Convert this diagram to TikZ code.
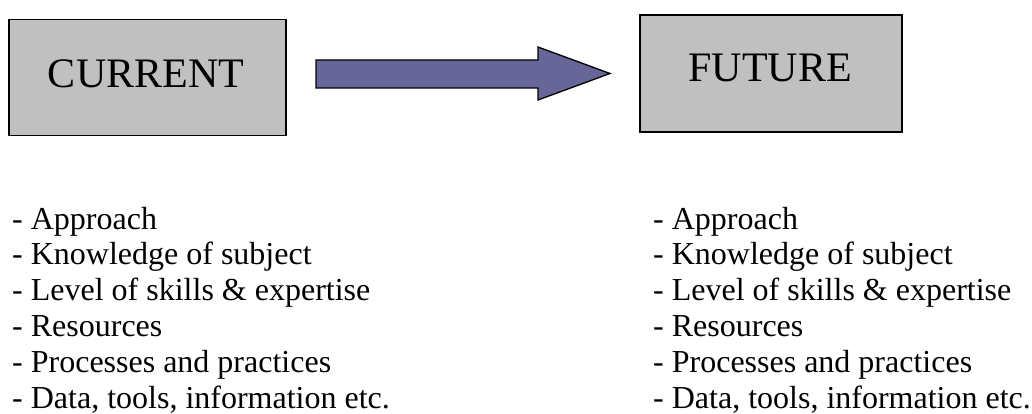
\documentclass[tikz,border=0pt]{standalone}
\usepackage{fontspec}
\setmainfont{Liberation Serif}
\definecolor{boxgray}{HTML}{C0C0C0}
\definecolor{arrowblue}{HTML}{666699}
\begin{document}
\begin{tikzpicture}[x=1pt,y=-1pt,
  statebox/.style={draw=black,line width=1.3pt,fill=boxgray,minimum width=277pt,minimum height=116pt,inner sep=0pt},
  statelabel/.style={font=\fontsize{42}{48}\selectfont,anchor=base},
  item/.style={font=\fontsize{32}{38}\selectfont,anchor=base west,inner sep=0pt},
  blockarrow/.style={draw=black,line width=1.3pt,fill=arrowblue,line join=miter}]
\useasboundingbox (0,0) rectangle (1032,414);
% the two state boxes
\node[statebox] (cur) at (147.5,77.5) {};
\node[statebox,minimum width=262pt,minimum height=117pt] (fut) at (771,73.5) {};
\node[statelabel] (curlabel) at (146,88) {CURRENT};
\node[statelabel] (futlabel) at (770,82) {FUTURE};
% block arrow from current to future
\draw[blockarrow] (316,60) -- (538,60) -- (538,47) -- (610,73.5) -- (538,100) -- (538,88) -- (316,88) -- cycle;
% the lists of aspects under each state
\foreach \t [count=\i from 0] in {Approach,Knowledge of subject,Level of skills \& expertise,Resources,Processes and practices,{Data, tools, information etc.}} {
  \node[item] (l\i) at (12,229+35.8*\i) {- \t};
  \node[item] (r\i) at (653,229+35.8*\i) {- \t};
}
\end{tikzpicture}
\end{document}
